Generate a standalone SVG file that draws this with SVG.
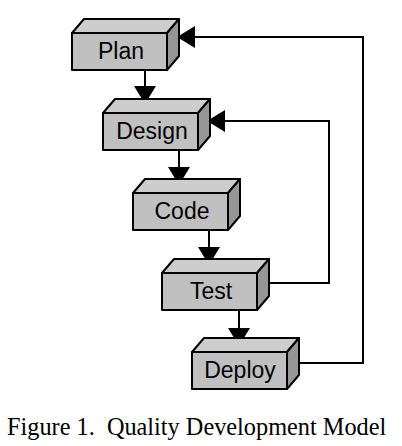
<svg xmlns="http://www.w3.org/2000/svg" width="402" height="446" viewBox="0 0 402 446">
<style>
.front{fill:#c0c0c0;stroke:#000;stroke-width:2;stroke-linejoin:round}
.top{fill:#cdcdcd;stroke:#000;stroke-width:2;stroke-linejoin:round}
.side{fill:#969696;stroke:#000;stroke-width:2;stroke-linejoin:round}
.lbl{font-family:"Liberation Sans",Arial,sans-serif;font-size:23px;fill:#000;text-anchor:middle}
.conn{fill:none;stroke:#000;stroke-width:2}
.cap{font-family:"Liberation Serif","Times New Roman",serif;font-size:24.3px;fill:#000}
</style>
<defs>
<marker id="ah" markerUnits="userSpaceOnUse" markerWidth="18" markerHeight="22" refX="18" refY="11" orient="auto">
<path d="M0,0 L18,11 L0,22 z" fill="#000"/>
</marker>
<g id="box">
<polygon class="top" points="0,0 12,-14 107,-14 95,0"/>
<polygon class="side" points="95,0 107,-14 107,23 95,37"/>
<rect class="front" x="0" y="0" width="95" height="37"/>
</g>
</defs>
<g id="connectors">
<path class="conn" d="M145,70 V104" marker-end="url(#ah)"/>
<path class="conn" d="M179,150 V185" marker-end="url(#ah)"/>
<path class="conn" d="M209,230 V265" marker-end="url(#ah)"/>
<path class="conn" d="M239,310 V346" marker-end="url(#ah)"/>
<path class="conn" d="M263,283 H329 V121 H207" marker-end="url(#ah)"/>
<path class="conn" d="M293,363 H363 V37 H177" marker-end="url(#ah)"/>
</g>
<g id="plan" transform="translate(72,33)"><use href="#box"/><text class="lbl" x="49" y="26">Plan</text></g>
<g id="design" transform="translate(103,113)"><use href="#box"/><text class="lbl" x="49" y="26">Design</text></g>
<g id="code" transform="translate(133,193)"><use href="#box"/><text class="lbl" x="49" y="26">Code</text></g>
<g id="test" transform="translate(162,273)"><use href="#box"/><text class="lbl" x="49" y="26">Test</text></g>
<g id="deploy" transform="translate(192,352)"><use href="#box"/><text class="lbl" x="48" y="26">Deploy</text></g>
<text class="cap" x="7" y="435" xml:space="preserve">Figure 1.  Quality Development Model</text>
</svg>
